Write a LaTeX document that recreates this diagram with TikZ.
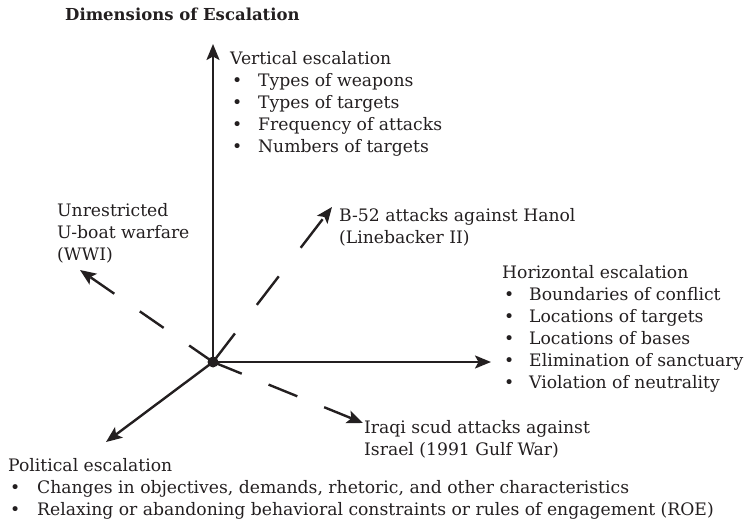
\documentclass[tikz,border=0pt]{standalone}
\usepackage{fontspec}
\setmainfont{DejaVu Serif}
\usetikzlibrary{arrows.meta}
\definecolor{inkc}{RGB}{35,31,32}
\newcommand\bodyfont{\fontsize{17.2}{22}\selectfont}
\newcommand\titlefont{\fontsize{16.5}{20}\selectfont\bfseries}
\newcommand\blt[1]{\makebox[#1][l]{\hspace{2pt}\textbullet}}
\begin{document}
\begin{tikzpicture}[x=1pt,y=-1pt,
  ink/.style={draw=inkc, line width=2.4pt},
  arr/.style={ink, -{Stealth[length=16pt,width=13pt,inset=3.5pt]}},
  dsh/.style={arr, dash pattern=on 31pt off 31pt},
  lbl/.style={anchor=base west, inner sep=0pt, text=inkc, font=\bodyfont},
]
\useasboundingbox (0,0) rectangle (752,521);

\node[lbl, font=\titlefont] (title) at (65,20.5) {Dimensions of Escalation};

\node[circle, fill=inkc, inner sep=0pt, minimum size=11pt] (o) at (213,362) {};

\coordinate (vt) at (213,44);
\coordinate (ht) at (491,362);
\coordinate (pt) at (106,442);
\coordinate (ut) at (80,270);
\coordinate (bt) at (332,207);
\coordinate (it) at (363,423);

\draw[arr] (o.center) -- (vt);
\draw[arr] (o.center) -- (ht);
\draw[arr] (o.center) -- (pt);
\draw[dsh, dash pattern=on 29pt off 31pt] (o.center) -- (ut);
\draw[dsh, dash pattern=on 36pt off 36pt] (o.center) -- (bt);
\draw[dsh, dash pattern=on 31pt off 29pt] (o.center) -- (it);

\node[lbl] (vert) at (230,65) {\begin{tabular}[t]{@{}l@{}}
Vertical escalation\\
\blt{28pt}Types of weapons\\
\blt{28pt}Types of targets\\
\blt{28pt}Frequency of attacks\\
\blt{28pt}Numbers of targets
\end{tabular}};

\node[lbl] (horz) at (502,279) {\begin{tabular}[t]{@{}l@{}}
Horizontal escalation\\
\blt{27pt}Boundaries of conflict\\
\blt{27pt}Locations of targets\\
\blt{27pt}Locations of bases\\
\blt{27pt}Elimination of sanctuary\\
\blt{27pt}Violation of neutrality
\end{tabular}};

\node[lbl] (uboat) at (57,217) {\begin{tabular}[t]{@{}l@{}}
Unrestricted\\
U-boat warfare\\
(WWI)
\end{tabular}};

\node[lbl] (b52) at (339,222) {\begin{tabular}[t]{@{}l@{}}
B-52 attacks against Hanol\\
(Linebacker II)
\end{tabular}};

\node[lbl] (iraq) at (364,433) {\begin{tabular}[t]{@{}l@{}}
Iraqi scud attacks against\\
Israel (1991 Gulf War)
\end{tabular}};

\node[lbl] (pol) at (8,471) {\begin{tabular}[t]{@{}l@{}}
Political escalation\\
\blt{29pt}Changes in objectives, demands, rhetoric, and other characteristics\\
\blt{29pt}Relaxing or abandoning behavioral constraints or rules of engagement (ROE)
\end{tabular}};
\end{tikzpicture}
\end{document}
